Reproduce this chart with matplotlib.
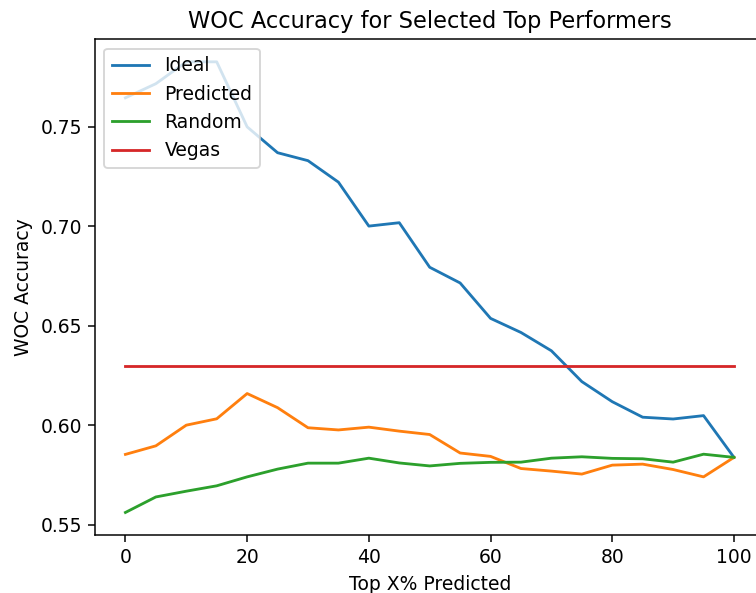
import matplotlib
matplotlib.use("Agg")
import matplotlib.pyplot as plt
import numpy as np

# Percentage of top performers selected
top_pct = [0, 5, 10, 15, 20, 25, 30, 35, 40, 45, 50,
           55, 60, 65, 70, 75, 80, 85, 90, 95, 100]

ideal = [0.7646, 0.7717, 0.7827, 0.7827, 0.7500, 0.7370, 0.7330, 0.7222,
         0.7001, 0.7018, 0.6794, 0.6715, 0.6537, 0.6466, 0.6374, 0.6219,
         0.6118, 0.6040, 0.6031, 0.6048, 0.5838]
predicted = [0.5853, 0.5896, 0.6000, 0.6032, 0.6159, 0.6088, 0.5987, 0.5976,
             0.5990, 0.5970, 0.5953, 0.5860, 0.5843, 0.5782, 0.5769, 0.5754,
             0.5799, 0.5804, 0.5777, 0.5740, 0.5838]
random_sel = [0.5561, 0.5639, 0.5668, 0.5695, 0.5740, 0.5779, 0.5809, 0.5809,
              0.5834, 0.5810, 0.5795, 0.5808, 0.5813, 0.5814, 0.5834, 0.5841,
              0.5833, 0.5831, 0.5814, 0.5854, 0.5838]
vegas = 0.6298

dpi = 135
fig = plt.figure(figsize=(756 / dpi, 593 / dpi), dpi=dpi)
ax = fig.add_axes([95 / 756, 1 - 535 / 593, (764.4 - 95) / 756, (535 - 39.3) / 593])

ax.plot(top_pct, ideal, label="Ideal")
ax.plot(top_pct, predicted, label="Predicted")
ax.plot(top_pct, random_sel, label="Random")
ax.plot(top_pct, [vegas] * len(top_pct), label="Vegas")

ax.set_title("WOC Accuracy for Selected Top Performers")
ax.set_xlabel("Top X% Predicted")
ax.set_ylabel("WOC Accuracy")
ax.legend(loc="upper left")

fig.savefig("out.png", dpi=dpi)
